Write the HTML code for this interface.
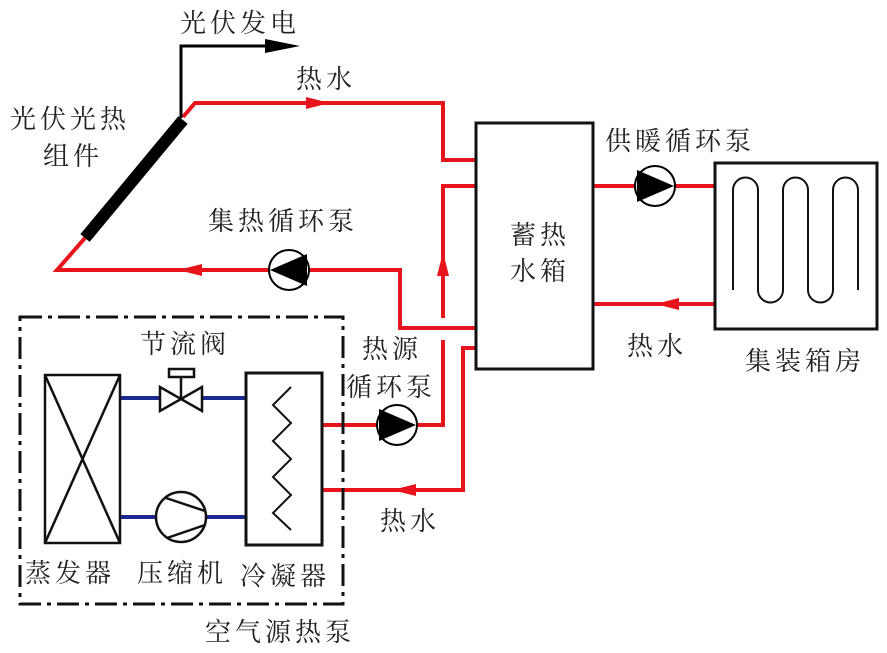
<!DOCTYPE html>
<html><head><meta charset="utf-8"><style>
body{margin:0;background:#fff}
svg{display:block}
text{font-family:"Liberation Serif","Noto Serif CJK SC",serif;font-size:26px;fill:#222;letter-spacing:4px}
</style></head><body>
<svg width="887" height="653" viewBox="0 0 887 653" xmlns="http://www.w3.org/2000/svg">
<g fill="none" stroke="#e8141c" stroke-width="4">
<polyline points="183,117 195,103 443,103 443,160 476,160"/>
<polyline points="476,186 443,186 443,318"/>
<polyline points="443,340 443,425 322,425"/>
<polyline points="85,238 57,270 400,270 400,328 476,328"/>
<polyline points="476,348 463,348 463,490 322,490"/>
<line x1="593" y1="186" x2="715" y2="186"/>
<line x1="593" y1="304" x2="715" y2="304"/>
</g>
<g fill="#e8141c">
<polygon points="330,103 306,97 306,109"/>
<polygon points="178,270 202,264 202,276"/>
<polygon points="443,252 437,276 449,276"/>
<polygon points="392,490 416,484 416,496"/>
<polygon points="655,304 679,298 679,310"/>
</g>
<line x1="85" y1="238" x2="183" y2="120" stroke="#000" stroke-width="12"/>
<polyline points="181,118 181,46 265,46" fill="none" stroke="#000" stroke-width="3"/>
<polygon points="300,46 265,39 265,53" fill="#000"/>
<g stroke="#000" stroke-width="2" fill="#fff">
<circle cx="289" cy="270" r="20"/><circle cx="655" cy="186" r="20"/><circle cx="397" cy="425" r="20"/>
</g>
<g fill="#000">
<polygon points="270,270 307,254 307,286"/>
<polygon points="674,186 637,170 637,202"/>
<polygon points="416,425 379,409 379,441"/>
</g>
<rect x="476" y="123" width="117" height="246" fill="none" stroke="#111" stroke-width="3"/>
<rect x="715" y="163" width="162" height="166" fill="none" stroke="#111" stroke-width="3"/>
<path d="M733,290 V190 A12.5,12.5 0 0 1 758,190 V290 A12.5,12.5 0 0 0 783,290 V190 A12.5,12.5 0 0 1 808,190 V290 A12.5,12.5 0 0 0 833,290 V190 A12.5,12.5 0 0 1 858,190 V290" fill="none" stroke="#111" stroke-width="2"/>
<rect x="20" y="317" width="323" height="287" fill="none" stroke="#111" stroke-width="3" stroke-dasharray="22,6,4,6"/>
<g stroke="#1a2a8e" stroke-width="4">
<line x1="120" y1="398" x2="160" y2="398"/><line x1="202" y1="398" x2="246" y2="398"/>
<line x1="120" y1="517" x2="157" y2="517"/><line x1="206" y1="517" x2="246" y2="517"/>
</g>
<g fill="none" stroke="#111" stroke-width="2.5">
<rect x="45" y="375" width="75" height="168"/>
<line x1="45" y1="375" x2="120" y2="543"/><line x1="120" y1="375" x2="45" y2="543"/>
<rect x="246" y="373" width="76" height="172" stroke-width="3"/>
<polyline points="291,387 273,405 291,423 273,441 291,459 273,477 291,495 273,513 291,530" stroke-width="2"/>
<polygon points="160,387 160,411 202,387 202,411"/>
<line x1="181" y1="399" x2="181" y2="377"/><rect x="169" y="369" width="25" height="8"/>
<circle cx="181" cy="517" r="25"/>
<line x1="166" y1="498" x2="205" y2="511"/><line x1="167" y1="538" x2="205" y2="525"/>
</g>
<text x="180" y="32">光伏发电</text>
<text x="296" y="88">热水</text>
<text x="10" y="128">光伏光热</text>
<text x="43" y="165">组件</text>
<text x="208" y="230">集热循环泵</text>
<text x="510" y="244">蓄热</text>
<text x="510" y="280">水箱</text>
<text x="605" y="150">供暖循环泵</text>
<text x="627" y="355">热水</text>
<text x="745" y="370">集装箱房</text>
<text x="140" y="353">节流阀</text>
<text x="362" y="358">热源</text>
<text x="346" y="396">循环泵</text>
<text x="380" y="530">热水</text>
<text x="25" y="582">蒸发器</text>
<text x="137" y="582">压缩机</text>
<text x="240" y="585">冷凝器</text>
<text x="205" y="641">空气源热泵</text>
</svg>
</body></html>
